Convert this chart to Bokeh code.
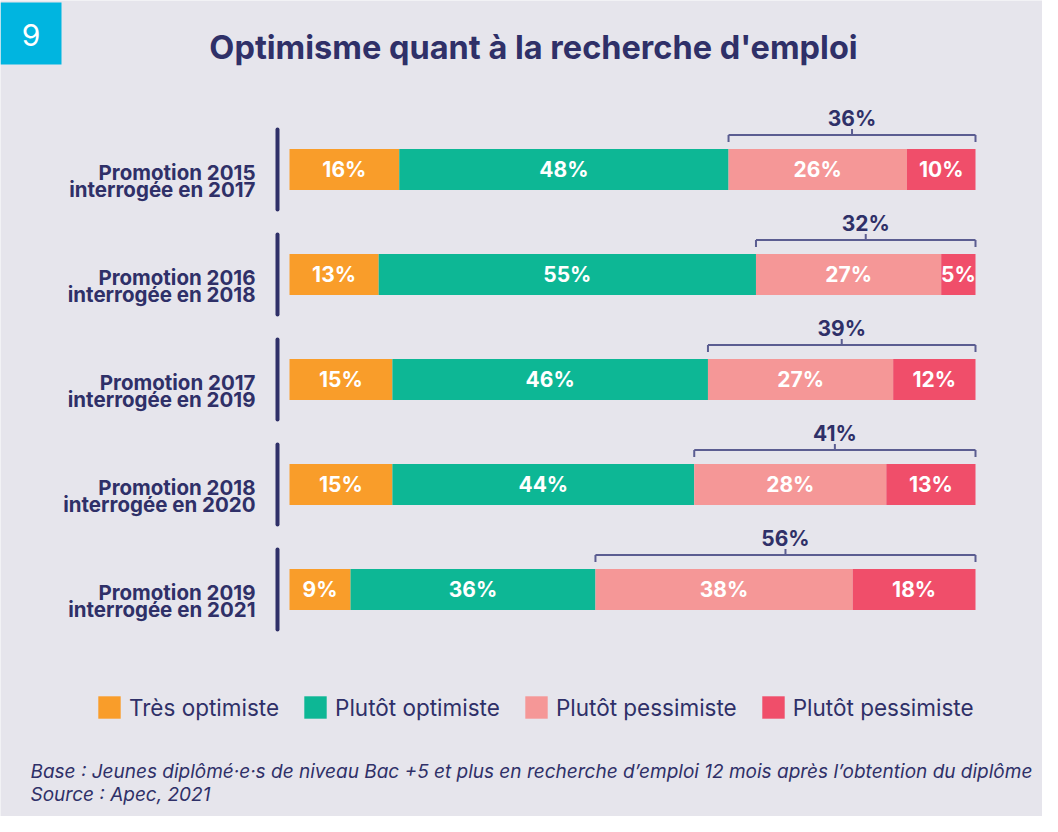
from bokeh.plotting import figure
from bokeh.models import Range1d, Legend, LegendItem
from bokeh.core.properties import value
from bokeh.embed import file_html
from bokeh.resources import INLINE

# ---------------- data ----------------
title = "Optimisme quant à la recherche d'emploi"
badge = "9"
rows = [
    "Promotion 2015\ninterrogée en 2017",
    "Promotion 2016\ninterrogée en 2018",
    "Promotion 2017\ninterrogée en 2019",
    "Promotion 2018\ninterrogée en 2020",
    "Promotion 2019\ninterrogée en 2021",
]
series = ["Très optimiste", "Plutôt optimiste", "Plutôt pessimiste", "Plutôt pessimiste"]
tres_optimiste = [16, 13, 15, 15, 8.9]
plutot_optimiste = [48, 55, 46, 44, 35.7]
plutot_pessimiste = [26, 27, 27, 28, 37.5]
pessimiste = [10, 5, 12, 13, 17.9]
labels_tres = ["16%", "13%", "15%", "15%", "9%"]
labels_plutot_opt = ["48%", "55%", "46%", "44%", "36%"]
labels_plutot_pess = ["26%", "27%", "27%", "28%", "38%"]
labels_pess = ["10%", "5%", "12%", "13%", "18%"]
total_pess_labels = ["36%", "32%", "39%", "41%", "56%"]
colors = ["#f99d2a", "#0db795", "#f59797", "#f04e6a"]
footnotes = [
    "Base : Jeunes diplômé·e·s de niveau Bac +5 et plus en recherche d’emploi 12 mois après l’obtention du diplôme",
    "Source : Apec, 2021",
]

# ---------------- layout ----------------
W, H = 1042, 816
BG = "#e6e5ec"
NAVY = "#2f3068"
BRACKET = "#5b5d91"
FONT = "Inter"

PX_PER_PCT = 6.86
X_START = -(297 - 8) / PX_PER_PCT
X_END = X_START + W / PX_PER_PCT
ROW_PX = 105.0
Y_TOP = -(177 - 8) / ROW_PX
Y_BOTTOM = Y_TOP + H / ROW_PX


def sx(px):
    return X_START + (px - 8) / PX_PER_PCT


def sy(py):
    return Y_TOP + (py - 8) / ROW_PX


p = figure(width=W, height=H, output_backend="svg", toolbar_location=None,
           x_range=Range1d(X_START, X_END), y_range=Range1d(Y_BOTTOM, Y_TOP),
           x_axis_location=None, y_axis_location=None, min_border=0)
p.grid.visible = False
p.outline_line_color = None
p.background_fill_color = BG
p.border_fill_color = BG

idx = list(range(len(rows)))
all_series = [tres_optimiste, plutot_optimiste, plutot_pessimiste, pessimiste]
all_labels = [labels_tres, labels_plutot_opt, labels_plutot_pess, labels_pess]

BAR_H = 41 / ROW_PX
renderers = []
lefts = [0.0] * len(rows)
for k, vals in enumerate(all_series):
    rights = [l + v for l, v in zip(lefts, vals)]
    r = p.hbar(y=idx, left=lefts, right=rights, height=BAR_H,
               fill_color=colors[k], line_color=None)
    renderers.append(r)
    mids = [(l + rr) / 2 for l, rr in zip(lefts, rights)]
    p.text(x=mids, y=idx, text=all_labels[k], text_align="center",
           text_baseline="middle", text_color="white", text_font=value(FONT),
           text_font_style="bold", text_font_size="21px")
    lefts = rights

# brackets for total pessimism
b_start = [a + b for a, b in zip(tres_optimiste, plutot_optimiste)]
b_end = [s + c + d for s, c, d in zip(b_start, plutot_pessimiste, pessimiste)]
b_mid = [(s + e) / 2 for s, e in zip(b_start, b_end)]
yh = [i - (20.5 + 14) / ROW_PX for i in idx]
yt = [i - (20.5 + 7) / ROW_PX for i in idx]
yc = [i - (20.5 + 20) / ROW_PX for i in idx]
yl = [i - (20.5 + 31) / ROW_PX for i in idx]
p.segment(x0=b_start, x1=b_end, y0=yh, y1=yh, line_color=BRACKET, line_width=2)
p.segment(x0=b_start, x1=b_start, y0=yh, y1=yt, line_color=BRACKET, line_width=2)
p.segment(x0=b_end, x1=b_end, y0=yh, y1=yt, line_color=BRACKET, line_width=2)
p.segment(x0=b_mid, x1=b_mid, y0=yh, y1=yc, line_color=BRACKET, line_width=2)
p.text(x=b_mid, y=yl, text=total_pess_labels, text_align="center",
       text_baseline="middle", text_color=NAVY, text_font=value(FONT),
       text_font_style="bold", text_font_size="21px")

# row separators and labels
sep_x = [sx(285)] * len(rows)
p.segment(x0=sep_x, x1=sep_x, y0=[i - 40 / ROW_PX for i in idx],
          y1=[i + 40 / ROW_PX for i in idx], line_color=NAVY, line_width=4,
          line_cap="round")
line1 = [r.split("\n")[0] for r in rows]
line2 = [r.split("\n")[1] for r in rows]
lab_x = [sx(263)] * len(rows)
p.text(x=lab_x, y=[i + 3 / ROW_PX for i in idx], text=line1, text_align="right",
       text_baseline="alphabetic", text_color=NAVY, text_font=value(FONT),
       text_font_style="bold", text_font_size="20.5px")
p.text(x=lab_x, y=[i + 19.7 / ROW_PX for i in idx], text=line2, text_align="right",
       text_baseline="alphabetic", text_color=NAVY, text_font=value(FONT),
       text_font_style="bold", text_font_size="20.5px")

# badge and title
p.quad(left=[sx(8)], right=[sx(69)], top=[sy(10)], bottom=[sy(72)],
       fill_color="#00b5e0", line_color=None)
p.text(x=[sx(38.5)], y=[sy(42)], text=[badge], text_align="center",
       text_baseline="middle", text_color="white", text_font=value(FONT),
       text_font_size="30px")
p.text(x=[sx(541)], y=[sy(55)], text=[title], text_align="center",
       text_baseline="middle", text_color=NAVY, text_font=value(FONT),
       text_font_style="bold", text_font_size="32.5px")

# footnotes
p.text(x=[sx(38)] * 2, y=[sy(779), sy(802)], text=footnotes, text_align="left",
       text_baseline="middle", text_color=NAVY, text_font=value(FONT),
       text_font_style="italic", text_font_size="19px")

# legend
legend = Legend(items=[LegendItem(label=s, renderers=[r]) for s, r in zip(series, renderers)],
                orientation="horizontal", location=(95, 95),
                glyph_width=28, glyph_height=28, label_height=28,
                label_standoff=6, spacing=22, padding=0, margin=0,
                background_fill_alpha=0, border_line_color=None,
                label_text_font=FONT, label_text_font_size="22.5px",
                label_text_color=NAVY)
p.add_layout(legend, "center")

open("out.html", "w").write(file_html(p, INLINE))
